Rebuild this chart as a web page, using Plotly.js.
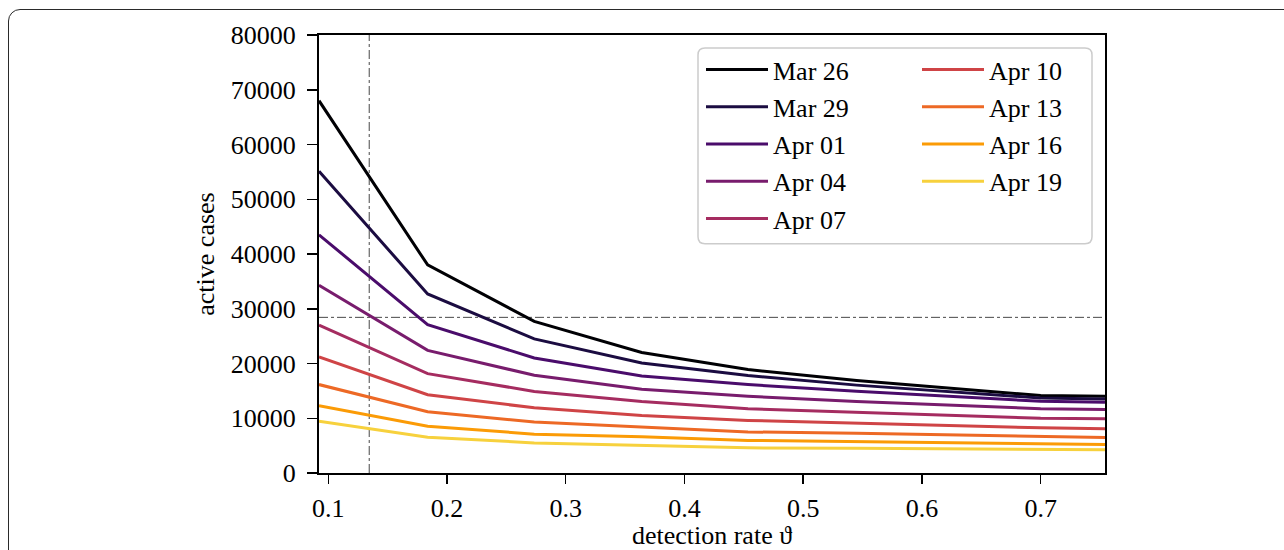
<!DOCTYPE html>
<html>
<head>
<meta charset="utf-8">
<script src="https://cdn.plot.ly/plotly-3.0.1.min.js"></script>
<style>
  html, body { margin: 0; padding: 0; background: #ffffff; }
  #wrap { position: relative; width: 1284px; height: 550px; overflow: hidden; }
  #frame { position: absolute; left: 8px; top: 9px; width: 1300px; height: 580px;
           border: 1.5px solid #2a2a2a; border-radius: 12px; box-sizing: border-box; }
  #chart { position: absolute; left: 0; top: 0; width: 1284px; height: 550px; }
</style>
</head>
<body>
<div id="wrap">
  <div id="frame"></div>
  <div id="chart"></div>
</div>
<script>
// detection rate values (x)
const detectionRate = [0.0922, 0.1837, 0.2735, 0.364, 0.4535, 0.545, 0.70, 0.7542];

// series labels
const seriesNames = ["Mar 26", "Mar 29", "Apr 01", "Apr 04", "Apr 07", "Apr 10", "Apr 13", "Apr 16", "Apr 19"];

// active cases per series
const mar26 = [68000, 38000, 27700, 22000, 18900, 16900, 14150, 14000];
const mar29 = [55100, 32700, 24500, 20100, 17800, 16050, 13700, 13500];
const apr01 = [43500, 27100, 21000, 17700, 16150, 14950, 13100, 12900];
const apr04 = [34300, 22400, 17850, 15300, 14000, 13050, 11750, 11600];
const apr07 = [27000, 18150, 14900, 13050, 11750, 11100, 10000, 9900];
const apr10 = [21200, 14300, 11900, 10500, 9600, 9100, 8250, 8100];
const apr13 = [16150, 11200, 9300, 8350, 7500, 7250, 6600, 6500];
const apr16 = [12300, 8550, 7100, 6600, 5950, 5700, 5250, 5200];
const apr19 = [9450, 6550, 5500, 5000, 4600, 4500, 4300, 4250];

// reference lines
const refDetectionRate = 0.1345;
const refActiveCases = 28430;

// axis ticks
const xTicks = [0.1, 0.2, 0.3, 0.4, 0.5, 0.6, 0.7];
const xTickLabels = ["0.1", "0.2", "0.3", "0.4", "0.5", "0.6", "0.7"];
const yTicks = [0, 10000, 20000, 30000, 40000, 50000, 60000, 70000, 80000];
const yTickLabels = ["0", "10000", "20000", "30000", "40000", "50000", "60000", "70000", "80000"];

const allSeries = [mar26, mar29, apr01, apr04, apr07, apr10, apr13, apr16, apr19];
const colors = ["#000004", "#1b0c41", "#4a0c6b", "#781c6d", "#a52c60", "#cf4446", "#ed6925", "#fb9b06", "#f7d13d"];

const FONT = "'Liberation Serif', 'DejaVu Serif', serif";
const FS = 26;

const traces = allSeries.map((ys, i) => ({
  type: "scatter",
  mode: "lines",
  x: detectionRate,
  y: ys,
  name: seriesNames[i],
  legendgroup: "g" + i,
  line: { color: colors[i], width: 3 },
  legend: i < 5 ? "legend" : "legend2",
  hoverinfo: "skip"
}));

// plot area geometry
const W = 1284, H = 550;
const ML = 319, MR = W - 1105, MT = 35, MB = H - 473.5;
const PW = W - ML - MR, PH = H - MT - MB;
const px2x = p => (p - ML) / PW;
const py2y = p => (H - MB - p) / PH;

// rounded legend box path (paper coords)
function roundedBox(x0, y0, x1, y1, r) {
  const X = px2x, Y = py2y;
  return "M" + X(x0 + r) + "," + Y(y0) +
    " L" + X(x1 - r) + "," + Y(y0) +
    " Q" + X(x1) + "," + Y(y0) + " " + X(x1) + "," + Y(y0 + r) +
    " L" + X(x1) + "," + Y(y1 - r) +
    " Q" + X(x1) + "," + Y(y1) + " " + X(x1 - r) + "," + Y(y1) +
    " L" + X(x0 + r) + "," + Y(y1) +
    " Q" + X(x0) + "," + Y(y1) + " " + X(x0) + "," + Y(y1 - r) +
    " L" + X(x0) + "," + Y(y0 + r) +
    " Q" + X(x0) + "," + Y(y0) + " " + X(x0 + r) + "," + Y(y0) + " Z";
}

const layout = {
  width: W, height: H,
  margin: { l: ML, r: MR, t: MT, b: MB, pad: 0 },
  paper_bgcolor: "rgba(0,0,0,0)",
  plot_bgcolor: "#ffffff",
  font: { family: FONT, size: FS, color: "#000000" },
  showlegend: true,
  xaxis: {
    range: [0.0922, 0.7542],
    tickmode: "array", tickvals: xTicks, ticktext: xTickLabels,
    ticks: "outside", ticklen: 9, tickwidth: 1.5, tickcolor: "#000",
    showline: true, linecolor: "#000", linewidth: 2, mirror: true,
    showgrid: false, zeroline: false,
    ticklabelstandoff: 2,
    tickfont: { family: FONT, size: FS },
    title: { text: "detection rate ϑ", font: { family: FONT, size: FS }, standoff: 11 }
  },
  yaxis: {
    range: [0, 80000],
    tickmode: "array", tickvals: yTicks, ticktext: yTickLabels,
    ticks: "outside", ticklen: 10, tickwidth: 1.5, tickcolor: "#000",
    showline: true, linecolor: "#000", linewidth: 2, mirror: true,
    showgrid: false, zeroline: false,
    ticklabelstandoff: 6,
    tickfont: { family: FONT, size: FS },
    title: { text: "active cases", font: { family: FONT, size: FS }, standoff: 9 }
  },
  legend: {
    x: px2x(701), y: py2y(46), xanchor: "left", yanchor: "top",
    bgcolor: "rgba(0,0,0,0)", borderwidth: 0,
    font: { family: FONT, size: FS }, itemwidth: 62, tracegroupgap: 0.5
  },
  legend2: {
    x: px2x(917), y: py2y(46), xanchor: "left", yanchor: "top",
    bgcolor: "rgba(0,0,0,0)", borderwidth: 0,
    font: { family: FONT, size: FS }, itemwidth: 62, tracegroupgap: 0.5
  },
  shapes: [
    { type: "line", xref: "x", yref: "paper", x0: refDetectionRate, x1: refDetectionRate, y0: 0, y1: 1,
      line: { color: "#333", width: 0.9, dash: "dashdot" }, layer: "below" },
    { type: "line", xref: "paper", yref: "y", x0: 0, x1: 1, y0: refActiveCases, y1: refActiveCases,
      line: { color: "#333", width: 0.9, dash: "dashdot" }, layer: "below" },
    { type: "path", xref: "paper", yref: "paper", path: roundedBox(698, 48, 1092, 244, 7),
      fillcolor: "rgba(255,255,255,0.85)", line: { color: "#cccccc", width: 1.5 }, layer: "above" }
  ]
};

Plotly.newPlot("chart", traces, layout, { displayModeBar: false, staticPlot: true });
</script>
</body>
</html>
